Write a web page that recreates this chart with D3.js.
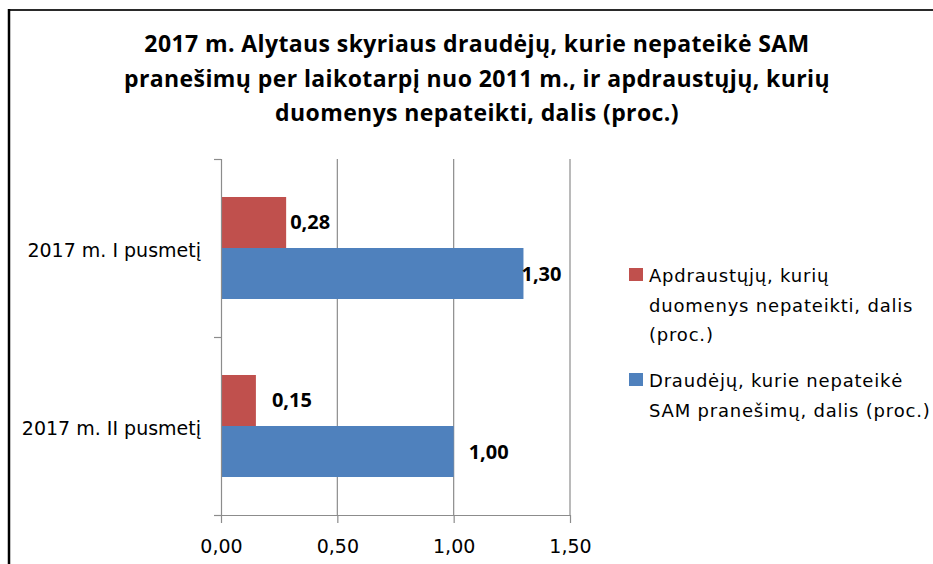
<!DOCTYPE html>
<html>
<head>
<meta charset="utf-8">
<script src="https://cdn.jsdelivr.net/npm/d3@7"></script>
<style>
  html, body { margin: 0; padding: 0; background: #fff; }
  svg { display: block; }
</style>
</head>
<body>
<script>
// ---- data ----
const titleLines = [
  "2017 m. Alytaus skyriaus draudėjų, kurie nepateikė SAM",
  "pranešimų per laikotarpį nuo 2011 m., ir apdraustųjų, kurių",
  "duomenys nepateikti, dalis (proc.)"
];
const categories = ["2017 m. I pusmetį", "2017 m. II pusmetį"];
const seriesNames = [
  "Apdraustųjų, kurių duomenys nepateikti, dalis (proc.)",
  "Draudėjų, kurie nepateikė SAM pranešimų, dalis (proc.)"
];
const apdraustieji = [0.28, 0.15];
const draudejai = [1.30, 1.00];
const xTicks = [0, 0.5, 1.0, 1.5];
const legendLines = [
  ["Apdraustųjų, kurių", "duomenys nepateikti, dalis", "(proc.)"],
  ["Draudėjų, kurie nepateikė", "SAM pranešimų, dalis (proc.)"]
];
const seriesColors = ["#C0504D", "#4F81BD"];
// per-label horizontal nudges (px), as placed in the original
const labelNudge = [[4, 16], [-2, 15]];

const W = 933, H = 564;
const svg = d3.select("body").append("svg").attr("width", W).attr("height", H);
svg.append("rect").attr("width", W).attr("height", H).attr("fill", "#fff");

// frame
svg.append("line").attr("x1", 8).attr("x2", W).attr("y1", 10).attr("y2", 10)
  .attr("stroke", "#2a2a2a").attr("stroke-width", 2);
svg.append("line").attr("x1", 9).attr("x2", 9).attr("y1", 9).attr("y2", H)
  .attr("stroke", "#000").attr("stroke-width", 2.5);

// title
svg.append("g").selectAll("text").data(titleLines).join("text")
  .attr("x", 477).attr("y", (d, i) => 52 + i * 34.5)
  .attr("text-anchor", "middle")
  .attr("font-family", "'Open Sans', sans-serif")
  .attr("font-weight", "bold").attr("font-size", 23)
  .attr("letter-spacing", 0.4)
  .attr("fill", "#000").text(d => d);

// scales
const plot = {left: 221, right: 570, top: 159, bottom: 515};
const x = d3.scaleLinear().domain([0, 1.5]).range([plot.left, plot.right]);
const y = d3.scaleBand().domain(categories).range([plot.top, plot.bottom]).padding(0);
const inner = d3.scaleBand().domain([0, 1]).range([0, y.bandwidth()])
  .paddingInner(0).paddingOuter(0.745);

// gridlines
svg.append("g").selectAll("line").data(xTicks.slice(1)).join("line")
  .attr("x1", d => x(d)).attr("x2", d => x(d))
  .attr("y1", plot.top).attr("y2", plot.bottom)
  .attr("stroke", "#8c8c8c").attr("stroke-width", 1.2);

// bars
const series = [apdraustieji, draudejai];
series.forEach((vals, s) => {
  svg.append("g").selectAll("rect").data(vals).join("rect")
    .attr("x", x(0))
    .attr("y", (d, i) => y(categories[i]) + inner(s))
    .attr("width", d => x(d) - x(0))
    .attr("height", inner.bandwidth())
    .attr("fill", seriesColors[s]);
});

// x axis
const xAxis = d3.axisBottom(x).tickValues(xTicks).tickSize(8).tickSizeOuter(0)
  .tickFormat(d => d3.format(".2f")(d).replace(".", ","));
const gx = svg.append("g").attr("transform", `translate(0,${plot.bottom})`).call(xAxis);
gx.select(".domain").attr("stroke", "#8c8c8c").attr("stroke-width", 1.2)
  .attr("d", `M${plot.left - 7},0.5H${plot.right}`);
gx.selectAll(".tick line").attr("stroke", "#8c8c8c").attr("stroke-width", 1.2);
gx.selectAll(".tick text").attr("font-family", "'DejaVu Sans', sans-serif")
  .attr("font-size", 19).attr("fill", "#000").attr("dy", 0).attr("y", 38);

// y axis
const yAxis = d3.axisLeft(d3.scaleLinear().domain([0, 2]).range([plot.bottom, plot.top]))
  .tickValues([0, 1, 2]).tickSize(7).tickFormat("");
const gy = svg.append("g").attr("transform", `translate(${plot.left},0)`).call(yAxis);
gy.select(".domain").attr("stroke", "#8c8c8c").attr("stroke-width", 1.2)
  .attr("d", `M0.5,${plot.top}V${plot.bottom}`);
gy.selectAll(".tick line").attr("stroke", "#8c8c8c").attr("stroke-width", 1.2);

// category labels
svg.append("g").selectAll("text").data(categories).join("text")
  .attr("x", 201).attr("y", d => y(d) + y.bandwidth() / 2 + 9)
  .attr("text-anchor", "end")
  .attr("font-family", "'DejaVu Sans', sans-serif").attr("font-size", 19)
  .attr("fill", "#000").text(d => d);

// data labels
series.forEach((vals, s) => {
  svg.append("g").selectAll("text").data(vals).join("text")
    .attr("x", (d, i) => x(d) + labelNudge[s][i])
    .attr("y", (d, i) => y(categories[i]) + inner(s) + inner.bandwidth() / 2 + 7)
    .attr("font-family", "'Open Sans', sans-serif").attr("font-weight", "bold")
    .attr("font-size", 20).attr("fill", "#000")
    .text(d => d3.format(".2f")(d).replace(".", ","));
});

// legend
const legendTop = [268, 373];
const lg = svg.append("g");
legendLines.forEach((lines, s) => {
  lg.append("rect").attr("x", 629).attr("y", legendTop[s]).attr("width", 14).attr("height", 13)
    .attr("fill", seriesColors[s]);
  lg.append("g").selectAll("text").data(lines).join("text")
    .attr("x", 649).attr("y", (d, i) => legendTop[s] + 14 + i * 29.5)
    .attr("font-family", "'DejaVu Sans', sans-serif").attr("font-size", 18)
    .attr("letter-spacing", 0.8)
    .attr("fill", "#000").text(d => d);
});
</script>
</body>
</html>
